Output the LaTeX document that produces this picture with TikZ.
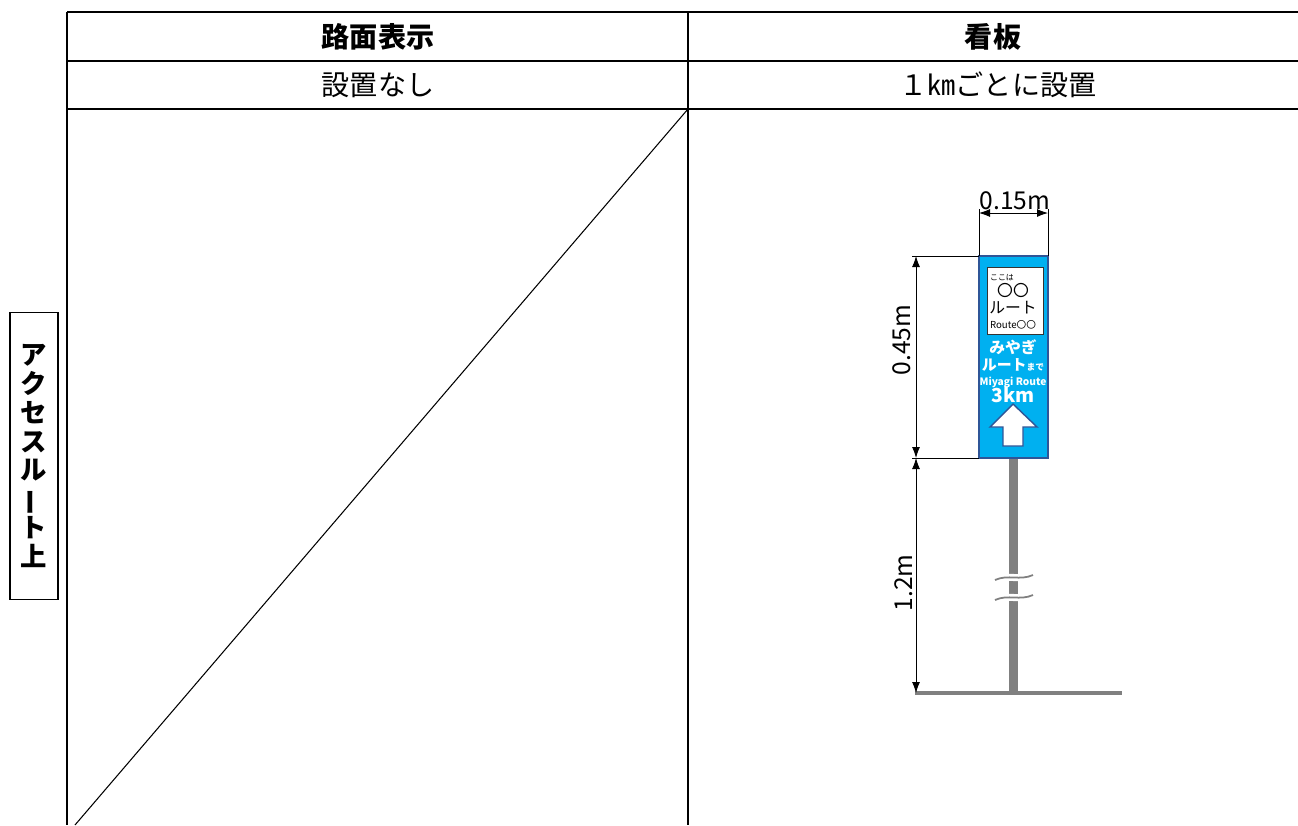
\documentclass[tikz,border=0pt]{standalone}
\usepackage{fontspec}
\setmainfont{Noto Sans CJK JP}
\usepackage{graphicx}
\usetikzlibrary{arrows.meta}
\definecolor{signblue}{HTML}{00B0F0}
\definecolor{signedge}{HTML}{2F5597}
\definecolor{polegray}{HTML}{808080}

\begin{document}
\begin{tikzpicture}[x=0.02cm, y=-0.02cm,
  rule/.style={line width=1.2pt},
  dimline/.style={line width=0.5pt, {Latex[length=2.2mm,width=1.6mm]}-{Latex[length=2.2mm,width=1.6mm]}},
  extline/.style={line width=0.5pt},
  dimtext/.style={font=\fontsize{14}{16}\selectfont, inner sep=0pt},
  signtext/.style={text=white, inner sep=0pt}]
\useasboundingbox (0,0) rectangle (1298,825);

% table
\draw[rule] (67,12) -- (1298,12);
\draw[rule] (67,61) -- (1298,61);
\draw[rule] (67,109) -- (1298,109);
\draw[rule] (67,12) -- (67,825);
\draw[rule] (688,12) -- (688,825);
\draw[line width=0.6pt] (688,109) -- (75,825);

\node[font=\fontsize{16}{18}\selectfont\bfseries] (hdroad) at (378,37) {路面表示};
\node[font=\fontsize{16}{18}\selectfont\bfseries] (hdsign) at (993,37) {看板};
\node[font=\fontsize{16}{18}\selectfont] (road) at (378,85) {設置なし};
\node[font=\fontsize{16}{18}\selectfont] (sign) at (998,85) {１㎞ごとに設置};

\node[draw, line width=0.8pt, minimum width=0.96cm, minimum height=5.74cm, align=center,
  font=\fontsize{15}{16.4}\selectfont\bfseries] (side) at (34,456)
  {ア\\ク\\セ\\ス\\ル\\\rotatebox[origin=c]{90}{ー}\\ト\\上};

% pole and ground
\fill[polegray] (1009,458) rectangle (1018,693);
\draw[polegray, line width=2pt] (915,693) -- (1122,693);
\foreach \y in {578,598}{
  \draw[white, line width=4pt] (995,\y+2) .. controls (1008,\y-4) and (1020,\y+3) .. (1033,\y-3);
  \draw[polegray, line width=1pt] (995,\y+2) .. controls (1008,\y-4) and (1020,\y+3) .. (1033,\y-3);
}

% sign board
\coordinate (signtl) at (979,256);
\coordinate (signtr) at (1048,256);
\coordinate (signbl) at (979,458);
\coordinate (signbr) at (1048,458);
\draw[fill=signblue, draw=signedge, line width=0.8pt] (signtl) rectangle (signbr);
\draw[fill=white, draw=black!80, line width=0.5pt] (987,267) rectangle (1043,334);

\node[inner sep=0pt, font=\fontsize{4.5}{5}\selectfont] (here) at (1002,278) {ここは};
\node[inner sep=0pt, font=\fontsize{9}{10}\selectfont] (circ) at (1013,290) {〇〇};
\node[inner sep=0pt, font=\fontsize{9}{10}\selectfont] (route) at (1013,308) {ルート};
\node[inner sep=0pt, font=\fontsize{5.5}{6}\selectfont] (routeen) at (1013,325) {Route〇〇};

\node[signtext, font=\fontsize{9}{10}\selectfont\bfseries] (miyagi) at (1013,347) {みやぎ};
\node[signtext, font=\fontsize{8.5}{10}\selectfont\bfseries] (miyroute) at (1013,365)
  {ルート{\fontsize{5}{6}\selectfont まで}};
\node[signtext, font=\fontsize{5.8}{6}\selectfont\bfseries] (miyen) at (1013,382) {Miyagi Route};
\node[signtext, font=\fontsize{11}{12}\selectfont\bfseries] (dist) at (1013,395) {3km};

\draw[fill=white, draw=signedge, line width=0.8pt] (1013,404) -- (1037,427) -- (1023,427)
  -- (1023,446) -- (1003,446) -- (1003,427) -- (990,427) -- cycle;

% dimensions
\coordinate (wa) at (979,213);
\coordinate (wb) at (1048,213);
\draw[extline] (signtl) -- (979,209);
\draw[extline] (signtr) -- (1048,209);
\draw[dimline] (wa) -- (wb);
\node[dimtext] (wlab) at (1015,201) {0.15m};

\coordinate (ha) at (916,256);
\coordinate (hb) at (916,458);
\coordinate (hc) at (916,693);
\draw[extline] (912,256) -- (signtl);
\draw[extline] (912,458) -- (signbl);
\draw[dimline] (ha) -- (hb);
\draw[dimline] (hb) -- (hc);
\node[dimtext, rotate=90] (hlab) at (902,340) {0.45m};
\node[dimtext, rotate=90] (plab) at (904,583) {1.2m};
\end{tikzpicture}
\end{document}
